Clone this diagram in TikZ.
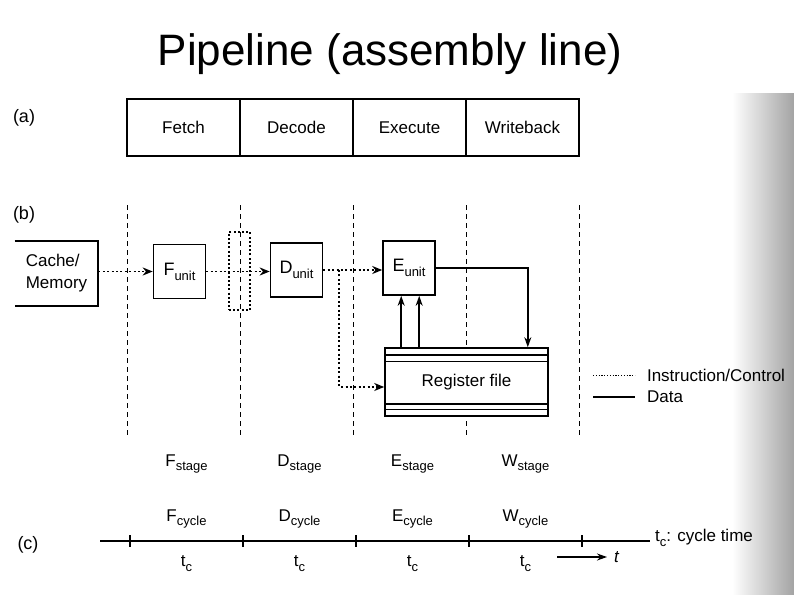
\documentclass[tikz,border=0pt]{standalone}
\usepackage{fontspec}
\setmainfont{Liberation Sans}
\usetikzlibrary{arrows.meta,calc,positioning}
\newcommand{\lowsub}[1]{\raisebox{-0.55ex}{\fontsize{6.5}{7}\selectfont #1}}

\begin{document}
\begin{tikzpicture}[x=0.5pt, y=-0.5pt,
  every node/.style={font=\fontsize{8.5}{10}\selectfont},
  stagebox/.style={draw, line width=0.9pt, outer sep=0pt, minimum width=56.5pt, minimum height=28.5pt, inner sep=0pt},
  unit/.style={draw, line width=0.8pt, minimum width=26pt, minimum height=27pt, inner sep=0pt,
               font=\fontsize{9}{10}\selectfont},
  latch/.style={draw, line width=0.8pt, dash pattern=on 1pt off 1.1pt,
                minimum width=10.5pt, minimum height=39pt, inner sep=0pt},
  regbox/.style={draw, fill=white, line width=0.8pt, minimum width=81.5pt, minimum height=34pt, inner sep=0pt},
  ctrl/.style={line width=0.9pt, dash pattern=on 1pt off 1.2pt, -{Stealth[length=5pt,width=4pt]}},
  data/.style={line width=0.8pt, -{Stealth[length=5pt,width=3.5pt]}},
  boundary/.style={line width=0.5pt, dash pattern=on 2.5pt off 2pt},
  tag/.style={font=\fontsize{9}{10}\selectfont},
]
  \useasboundingbox (0,0) rectangle (794,595);
  \shade[left color=white, right color=black!36] (732,93) rectangle (794,595);

  % Title -------------------------------------------------------------------
  \node[font=\fontsize{22}{26}\selectfont, anchor=base] (title) at (390,65) {Pipeline (assembly line)};

  % (a) stages --------------------------------------------------------------
  \node[tag] (taga) at (24,118) {(a)};
  \node[stagebox] (fetch) at (183.5,127.5) {Fetch};
  \node[stagebox, right=0pt of fetch] (decode) {Decode};
  \node[stagebox, right=0pt of decode] (execute) {Execute};
  \node[stagebox, right=0pt of execute] (writeback) {Writeback};

  % (b) units ---------------------------------------------------------------
  \node[tag] (tagb) at (24,215) {(b)};
  \foreach \x in {127,240,353,466,579}
    \draw[boundary] (\x,205) -- (\x,435);

  \node[minimum width=41.5pt, minimum height=32.5pt, inner sep=0pt, align=left,
        font=\fontsize{8.5}{11}\selectfont] (cache) at (56.5,273.5) {Cache/\\Memory};
  \draw[line width=1pt] (cache.north west) -- (cache.north east) -- (cache.south east) -- (cache.south west);

  \node[unit] (funit) at (179.5,271.5) {F\lowsub{unit}};
  \node[latch] (latch) at (239.5,271) {};
  \node[unit] (dunit) at (296.5,270) {D\lowsub{unit}};
  \node[unit] (eunit) at (409,268) {E\lowsub{unit}};
  \node[regbox] (regfile) at (466.5,382) {Register file};
  \foreach \dy/\w in {8/1.2pt,14/0.5pt}
    \draw[line width=\w] ($(regfile.north west)+(0,\dy)$) -- ($(regfile.north east)+(0,\dy)$);
  \foreach \dy/\w in {-13/1.2pt,-7/0.5pt}
    \draw[line width=\w] ($(regfile.south west)+(0,\dy)$) -- ($(regfile.south east)+(0,\dy)$);

  \draw[ctrl] (cache.east |- funit) -- (funit.west);
  \draw[ctrl] (funit.east) -- (funit.east -| dunit.west);
  \draw[ctrl] (dunit.east) -- (dunit.east -| eunit.west);
  \coordinate (split) at ($(dunit.east)+(16,0)$);
  \draw[ctrl] (split) |- ($(regfile.west)+(0,5)$);

  \coordinate (ein1) at ($(eunit.south west)+(19,0)$);
  \coordinate (ein2) at ($(eunit.south west)+(37,0)$);
  \draw[data] (ein1 |- regfile.north) -- (ein1);
  \draw[data] (ein2 |- regfile.north) -- (ein2);
  \draw[data] (eunit.east) -| ($(regfile.north east)+(-21,0)$);

  % legend
  \coordinate (ctrlkey) at (593,375);
  \node[anchor=west] (ctrltext) at (640,375) {Instruction/Control};
  \draw[line width=0.5pt, dash pattern=on 0.6pt off 0.8pt, shorten >=2.5pt] (ctrlkey) -- (ctrltext.west);
  \coordinate (datakey) at (593,397);
  \node[anchor=west] (datatext) at (640,397) {Data};
  \draw[line width=1pt, shorten >=2.5pt] (datakey) -- (datatext.west);

  % (c) timing --------------------------------------------------------------
  \node[tag] (tagc) at (28,545) {(c)};
  \coordinate (tstart) at (100,541);
  \coordinate (tend) at (650,541);
  \draw[line width=0.9pt] (tstart) -- (tend);
  \foreach \x in {130,243,356,469,582}
    \draw[line width=0.6pt] (\x,535) -- (\x,547);
  \foreach \lt [count=\i] in {F,D,E,W} {
    \pgfmathsetmacro\xm{73.5+113*\i}
    \node[anchor=base] (stage\lt) at (\xm,466) {\lt\lowsub{stage}};
    \node[anchor=base] (cycle\lt) at (\xm,521) {\lt\lowsub{cycle}};
    \node (tc\i) at (\xm,564) {t\lowsub{c}};
  }
  \coordinate (tarrow) at (557,557);
  \node[anchor=west] (tlabel) at (607,557) {\itshape t};
  \draw[line width=0.6pt, -{Stealth[length=5pt,width=3.5pt]}] (tarrow) -- (tlabel.west);
  \node[anchor=west] (cycletime) at (648,538) {t\lowsub{c}: cycle time};
\end{tikzpicture}
\end{document}
